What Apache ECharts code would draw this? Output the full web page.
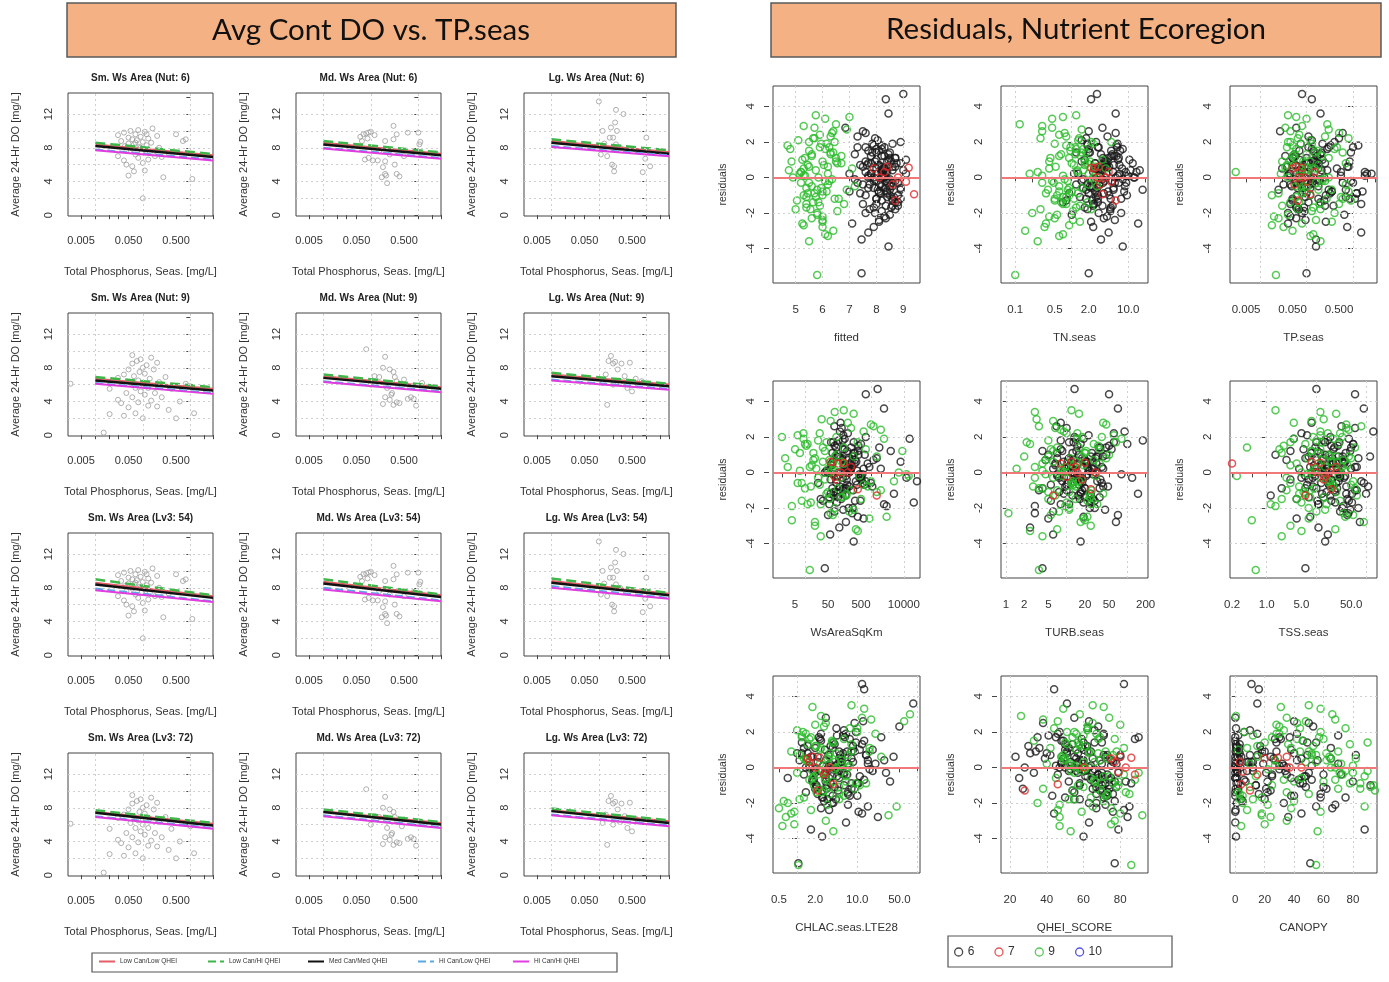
<!DOCTYPE html>
<html>
<head>
<meta charset="utf-8">
<title>Avg Cont DO vs. TP.seas / Residuals, Nutrient Ecoregion</title>
<script src="https://cdn.jsdelivr.net/npm/echarts@6.0.0/dist/echarts.min.js"></script>
<style>
  html, body { margin: 0; padding: 0; background: #fff; }
  #chart { width: 1389px; height: 982px; }
</style>
</head>
<body>
<div id="chart"></div>
<script>
// ---------------- left block : Avg Cont DO vs TP.seas ----------------
const groupNames = ['Low Can/Low QHEI', 'Low Can/Hi QHEI', 'Med Can/Med QHEI', 'Hi Can/Low QHEI', 'Hi Can/Hi QHEI'];
const sizeNames = ['Sm. Ws Area', 'Md. Ws Area', 'Lg. Ws Area'];
const regionNames = ['Nut: 6', 'Nut: 9', 'Lv3: 54', 'Lv3: 72'];
const tpLabels = ['0.005', '0.050', '0.500'];
const tpTicks = [0.005, 0.01, 0.02, 0.03, 0.05, 0.1, 0.2, 0.3, 0.5, 1, 2, 3];
const tpGrid = [0.01, 0.1, 1];
const doTicks = [0, 2, 4, 6, 8, 10, 12, 14];
const doLabels = [0, 4, 8, 12];
const doGrid = [2, 4, 6, 8, 10, 12];
const tpRange = [0.00266, 3.0];
const doRange = [-0.1, 14.5];
const lineTP = [0.01, 3.0];

// fitted lines: DO at TP = 0.01 and at TP = 3.0, group order as groupNames; one row per size class
const startNut6 = [[8.4, 8.6, 8.2, 7.8, 7.7], [8.6, 8.8, 8.4, 8.0, 7.9], [8.8, 9.0, 8.6, 8.2, 8.1]];
const endNut6   = [[7.1, 7.25, 6.9, 6.6, 6.5], [7.3, 7.45, 7.1, 6.8, 6.7], [7.5, 7.7, 7.3, 7.1, 7.0]];
const startNut9 = [[6.7, 6.9, 6.5, 6.2, 6.1], [7.0, 7.2, 6.8, 6.4, 6.3], [7.2, 7.4, 7.0, 6.6, 6.5]];
const endNut9   = [[5.5, 5.7, 5.3, 5.0, 4.9], [5.7, 5.8, 5.5, 5.2, 5.1], [6.0, 6.1, 5.8, 5.5, 5.4]];
const startLv54 = [[8.6, 9.0, 8.4, 7.9, 7.7], [8.7, 9.0, 8.5, 8.0, 7.8], [8.8, 9.1, 8.6, 8.2, 8.0]];
const endLv54   = [[7.0, 7.1, 6.8, 6.4, 6.3], [7.1, 7.2, 6.9, 6.5, 6.4], [7.3, 7.4, 7.1, 6.8, 6.7]];
const startLv72 = [[7.5, 7.7, 7.4, 7.0, 6.9], [7.6, 7.8, 7.5, 7.1, 7.0], [7.7, 7.9, 7.6, 7.2, 7.1]];
const endLv72   = [[6.1, 6.2, 5.9, 5.6, 5.5], [6.2, 6.3, 6.0, 5.7, 5.6], [6.4, 6.5, 6.2, 5.9, 5.8]];

// observed sites [TP, DO]
const smNut6Pts = [[0.03,9.5],[0.035,8.8],[0.04,9.8],[0.042,8.2],[0.045,7.6],[0.05,9.2],[0.05,8.5],[0.055,10.0],[0.06,7.9],[0.06,9.0],
  [0.065,8.4],[0.07,9.6],[0.07,7.2],[0.075,8.9],[0.08,10.1],[0.08,6.8],[0.085,8.1],[0.09,9.3],[0.095,7.5],[0.1,8.7],
  [0.1,6.2],[0.11,9.9],[0.11,7.8],[0.12,8.3],[0.13,9.1],[0.13,6.6],[0.14,7.4],[0.15,8.6],[0.16,10.3],[0.18,7.0],
  [0.2,9.4],[0.22,8.0],[0.25,6.9],[0.06,5.8],[0.045,6.0],[0.05,4.7],[0.065,5.2],[0.11,5.3],[0.1,2.0],[0.27,4.5],
  [0.5,9.6],[0.8,9.0],[0.7,8.8],[1.1,4.3],[0.35,7.3],[0.04,6.5],[0.03,7.0],[0.09,8.0],[0.12,9.6],[0.07,8.6]];
const mdNut6Pts = [[0.06,9.3],[0.07,9.6],[0.08,9.7],[0.09,9.8],[0.1,9.9],[0.12,9.5],[0.065,8.8],[0.085,9.1],[0.2,8.8],[0.3,9.0],
  [0.3,10.6],[0.35,9.6],[0.6,9.8],[1.0,9.8],[1.1,8.7],[1.05,8.4],[0.075,6.6],[0.09,6.8],[0.11,6.5],[0.14,6.5],
  [0.2,6.4],[0.32,6.0],[0.18,5.7],[0.2,4.9],[0.17,4.5],[0.21,4.7],[0.22,3.8],[0.35,4.9],[0.4,4.6],[0.8,7.5],
  [0.15,7.6],[0.25,7.2],[0.5,7.0]];
const lgNut6Pts = [[0.1,13.5],[0.23,12.5],[0.12,10.0],[0.18,10.4],[0.22,11.0],[0.24,10.0],[0.33,12.0],[0.2,9.2],[0.17,9.2],[0.23,8.4],
  [0.11,7.2],[0.15,7.0],[0.19,6.0],[0.21,5.8],[0.21,5.2],[0.84,5.1],[1.2,5.8],[1.0,9.2],[0.95,6.7],[0.28,8.0],[0.13,8.5]];
const smNut9Pts = [[0.003,6.1],[0.015,0.3],[0.02,2.5],[0.02,5.5],[0.03,4.2],[0.035,3.8],[0.03,6.8],[0.04,7.2],[0.04,2.3],[0.045,5.0],
  [0.05,7.8],[0.05,3.3],[0.055,6.2],[0.06,8.5],[0.06,4.5],[0.065,7.0],[0.07,5.6],[0.07,2.6],[0.075,8.8],[0.08,6.5],
  [0.08,3.9],[0.085,7.5],[0.09,5.2],[0.09,9.0],[0.1,6.0],[0.1,2.0],[0.11,7.3],[0.11,4.8],[0.12,8.3],[0.13,5.6],
  [0.13,3.5],[0.14,6.7],[0.15,9.2],[0.15,4.1],[0.17,7.8],[0.18,5.0],[0.2,8.6],[0.2,3.4],[0.22,6.3],[0.25,4.5],
  [0.3,6.9],[0.35,3.0],[0.4,5.5],[0.5,2.0],[0.6,4.0],[0.8,6.1],[1.0,5.8],[1.2,2.6],[0.06,9.5],[0.1,8.0]];
const mdNut9Pts = [[0.08,10.2],[0.2,9.3],[0.18,8.0],[0.25,7.8],[0.3,7.5],[0.15,6.9],[0.12,7.0],[0.35,6.4],[0.22,5.6],[0.28,5.0],
  [0.2,4.5],[0.25,4.2],[0.18,3.7],[0.3,3.6],[0.35,3.9],[0.4,3.8],[0.27,4.8],[0.6,4.3],[0.7,4.5],[0.8,4.3],
  [0.9,3.5],[0.5,6.6],[0.45,5.8],[1.2,6.2],[0.1,6.0],[0.32,6.9]];
const lgNut9Pts = [[0.18,9.4],[0.16,8.8],[0.2,8.5],[0.22,8.7],[0.25,7.8],[0.14,7.2],[0.3,8.5],[0.45,8.6],[0.35,7.0],[0.12,6.2],
  [0.2,6.0],[0.28,6.3],[0.4,5.6],[0.5,5.2],[0.15,3.6],[0.6,6.7],[0.8,6.4]];

// ---------------- right block : residuals ----------------
const ecoNames = ['6', '7', '9', '10'];
const residTicks = [-4, -2, 0, 2, 4];
const residRange = [-5.95, 5.15];

const resid6 = [4.7, 4.4, 3.6, -5.4, -3.9,
  2.8, -0.4, 1.2, -1.6, 0.3, 2.2, -2.2, 0.8, -0.9, 0.1,
  1.7, -1.2, -0.2, 0.6, -2.6, 1.4, -0.6, 0.2, -1.9, 1.0,
  -0.1, 2.5, -1.4, 0.5, -0.8, 1.9, -3.1, 0.0, -0.5, 1.3,
  -1.1, 0.7, -2.0, 0.4, 1.6, -0.3, -1.7, 0.9, -0.7, 2.0,
  -2.4, 0.2, 1.1, -1.0, -0.2, 1.5, -1.3, 0.6, -3.5, 0.3,
  -0.6, 1.8, -1.5, -0.1, 0.8, -2.1, 1.2, -0.9, 0.1, 2.3,
  -1.8, 0.5, -0.4, 1.0, -2.8, 0.0, 1.4, -1.2, 0.7, -0.3,
  2.6, -1.6, 0.4, -0.8, 1.7, -2.3, 0.9, -0.5, 0.2, -1.0,
  0.4, -0.6, 1.1, -1.2, 0.0, 0.8, -0.3, 1.5, -0.9, 0.2,
  -1.4, 0.6, -0.1, 1.3, -0.7, 0.3, -1.8, 0.9, -0.4, 1.9,
  -1.1, 0.1, 0.7, -0.5, 1.6, -1.6, 0.5, -0.2, 1.0, -0.8,
  0.2, -1.3, 1.2, -0.6, 0.0, 2.1, -1.0, 0.4, -2.0, 0.8,
  -0.3, 1.4, -0.9, 0.6, -1.5, 0.1, 1.7, -0.7, 0.3, -1.2,
  0.9, -0.1, -2.5, 1.1, -0.4, 0.5, -1.7, 1.8, -0.2, 0.7];
const resid9 = [-5.5, 3.5, 3.4, 3.3, -3.6, -3.3, 2.9, -3.0, 2.7, -2.7,
  1.8, -0.6, 0.9, -1.8, 2.4, -1.2, 0.3, 1.4, -2.3, 0.0,
  1.1, -0.9, 2.1, -1.5, 0.6, -0.2, 1.6, -2.0, 0.8, -1.0,
  -0.4, 2.6, -1.7, 0.5, 1.3, -2.5, 0.2, -0.7, 1.9, -1.3,
  0.7, -0.1, 2.2, -1.9, 1.0, -0.8, 0.4, -2.2, 1.5, -0.5,
  3.0, -1.4, 0.1, 1.7, -2.8, 0.9, -1.1, 2.0, -0.3, 1.2,
  1.2, -0.8, 0.5, -1.6, 2.3, -0.3, 0.9, -2.1, 1.6, -1.1,
  0.2, 2.8, -0.6, 1.4, -2.6, 0.7, -1.4, 0.0, 1.9, -0.9,
  2.5, -1.8, 0.4, -0.2, 1.1, -2.4, 0.8, -0.5, 1.7, -1.2,
  0.3, -3.2, 2.0, -0.7, 1.3, -1.5, 0.6, 2.2, -1.0, 0.1];
const resid7 = [0.5, 0.6, 0.0, 0.55, -0.25, -0.95, -1.3, 0.0, 0.3, -0.4];

const fitted6 = [9.0, 8.35, 8.45, 7.45, 8.45,
  6.85, 8.1, 7.8, 8.6, 7.6, 7.95, 8.3, 8.9, 7.4, 8.2,
  7.3, 8.0, 8.7, 7.5, 7.1, 8.5, 7.7, 9.1, 8.2, 8.0,
  7.2, 7.6, 8.8, 8.3, 7.0, 8.6, 7.7, 7.9, 8.6, 7.2,
  8.4, 8.1, 7.6, 9.0, 8.2, 7.3, 7.9, 8.4, 8.9, 8.9,
  8.1, 7.0, 8.7, 7.6, 8.0, 7.7, 8.2, 8.7, 7.45, 8.4,
  8.9, 8.2, 7.5, 8.5, 7.8, 8.5, 8.3, 8.1, 7.7, 7.3,
  8.7, 8.0, 7.5, 9.1, 7.9, 8.3, 8.0, 8.6, 7.4, 8.8,
  7.5, 8.35, 8.6, 8.4, 8.3, 8.35, 7.6, 8.2, 8.0, 8.8,
  8.2, 7.9, 8.5, 8.0, 8.3, 7.7, 8.6, 8.1, 8.4, 7.8,
  8.7, 8.2, 7.95, 8.45, 8.05, 8.35, 7.75, 8.55, 8.15, 7.85,
  8.65, 8.25, 7.65, 8.5, 8.0, 8.8, 8.3, 7.9, 8.45, 8.1,
  7.8, 8.6, 8.2, 8.35, 7.7, 8.05, 8.5, 8.25, 7.95, 8.75,
  8.4, 7.85, 8.15, 8.6, 8.0, 8.3, 7.6, 8.5, 8.2, 8.9,
  7.95, 8.4, 8.1, 8.7, 7.75, 8.25, 8.55, 7.9, 8.35, 8.05];
const fitted9 = [5.8, 5.75, 7.0, 6.1, 5.5, 6.2, 5.3, 6.4, 6.9, 5.3,
  4.7, 5.4, 6.0, 5.0, 5.9, 6.6, 5.2, 6.3, 5.6, 4.9,
  6.5, 5.7, 5.1, 6.8, 5.5, 6.1, 4.8, 5.8, 6.7, 5.3,
  6.2, 6.4, 5.4, 7.1, 5.6, 6.0, 5.15, 6.9, 5.95, 5.05,
  5.45, 6.35, 5.65, 6.55, 5.25, 6.15, 4.75, 6.0, 5.5, 7.2,
  6.5, 5.85, 5.35, 6.25, 6.0, 4.85, 5.75, 6.45, 5.2, 6.7,
  5.6, 6.0, 5.3, 5.9, 6.3, 5.5, 6.5, 5.8, 6.1, 5.4,
  6.2, 5.7, 5.95, 6.4, 5.25, 6.05, 5.65, 5.85, 6.15, 5.45,
  6.35, 5.55, 5.75, 6.25, 5.35, 6.0, 6.55, 5.6, 5.9, 6.45,
  5.2, 6.1, 5.5, 5.8, 6.3, 5.4, 6.2, 5.7, 6.0, 5.3];
const fitted7 = [7.9, 8.4, 8.8, 9.2, 9.1, 9.4, 8.7, 8.1, 8.3, 8.6];

const tn6 = [2.8, 2.2, 6.0, 2.0, 8.0,
  3.5, 1.2, 5.0, 2.4, 9.0, 1.8, 4.2, 12.0, 0.9, 6.5,
  2.9, 7.5, 1.5, 3.8, 15.0, 2.1, 5.5, 1.1, 4.8, 10.5,
  2.6, 6.0, 0.7, 3.2, 8.5, 1.9, 4.5, 13.0, 2.3, 5.2,
  1.4, 7.0, 3.0, 11.0, 2.0, 6.8, 1.7, 4.0, 18.0, 2.7,
  5.8, 1.3, 3.6, 9.5, 2.2, 7.2, 0.8, 4.6, 3.3, 14.0,
  1.6, 6.2, 2.5, 8.0, 3.9, 1.0, 5.6, 2.8, 10.0, 4.3,
  1.9, 7.8, 3.1, 6.6, 2.4, 12.5, 1.2, 4.9, 3.4, 9.2,
  2.0, 5.3, 16.0, 2.6, 6.4, 3.7, 1.5, 8.8, 4.1, 2.9,
  3.0, 2.2, 4.5, 1.8, 6.0, 2.6, 3.6, 5.0, 2.0, 7.0,
  2.9, 4.0, 1.6, 3.3, 5.5, 2.4, 4.8, 3.8, 1.9, 6.5,
  2.7, 3.1, 4.2, 2.1, 8.0, 3.5, 2.5, 5.2, 1.7, 4.4,
  3.2, 2.3, 6.2, 2.8, 3.9, 1.5, 4.6, 3.4, 7.5, 2.6,
  5.8, 2.0, 3.7, 4.1, 2.4, 9.0, 3.0, 1.8, 5.4, 2.9,
  4.3, 3.5, 2.2, 6.8, 3.1, 2.7, 4.9, 1.9, 3.8, 5.6];
const tn9 = [0.1, 1.2, 0.7, 0.45, 0.25, 0.6, 0.3, 0.15, 1.5, 0.9,
  0.8, 1.5, 0.4, 2.2, 0.6, 1.1, 0.25, 1.8, 0.5, 3.0,
  0.9, 0.35, 1.3, 0.7, 2.6, 0.45, 1.6, 0.2, 1.0, 0.55,
  2.0, 0.3, 1.2, 4.0, 0.65, 1.4, 0.18, 0.85, 2.4, 0.5,
  1.7, 0.75, 0.28, 1.05, 3.5, 0.6, 1.25, 0.4, 0.95, 2.8,
  0.12, 1.9, 0.7, 1.15, 0.33, 2.1, 0.8, 5.0, 0.48, 1.45,
  0.6, 1.0, 0.4, 1.4, 0.8, 0.3, 1.7, 0.55, 1.2, 0.7,
  2.0, 0.45, 0.9, 1.5, 0.35, 1.1, 0.65, 2.4, 0.5, 1.3,
  0.75, 0.28, 1.6, 0.85, 0.42, 1.05, 1.9, 0.6, 0.95, 0.5,
  1.25, 0.7, 2.2, 0.38, 1.15, 0.8, 0.52, 1.35, 0.9, 0.3];
const tn7 = [2.5, 3.0, 4.0, 2.2, 5.0, 3.5, 6.0, 2.8, 4.5, 3.2];

const tp6 = [0.08, 0.13, 0.2, 0.1, 0.16,
  0.06, 0.12, 0.035, 0.25, 0.08, 0.5, 0.045, 0.18, 1.2, 0.07,
  0.3, 0.05, 0.1, 0.8, 0.04, 0.15, 0.065, 2.0, 0.09, 0.22,
  0.055, 0.6, 0.11, 0.03, 0.35, 0.075, 1.5, 0.14, 0.048, 0.2,
  0.7, 0.085, 0.04, 0.28, 0.13, 1.0, 0.06, 0.17, 0.025, 0.4,
  0.095, 2.5, 0.052, 0.12, 0.9, 0.07, 0.24, 0.038, 0.16, 0.55,
  0.08, 1.3, 0.045, 0.19, 0.1, 0.65, 0.058, 0.32, 1.8, 0.11,
  0.068, 0.45, 0.032, 0.15, 0.75, 0.09, 0.21, 1.1, 0.05, 0.13,
  0.027, 0.38, 0.078, 1.6, 0.11, 0.06, 0.85, 0.18, 0.042, 0.26,
  0.07, 0.12, 0.05, 0.18, 0.09, 0.25, 0.06, 0.14, 0.1, 0.045,
  0.2, 0.08, 0.13, 0.055, 0.3, 0.11, 0.065, 0.16, 0.075, 0.22,
  0.095, 0.04, 0.15, 0.085, 0.28, 0.06, 0.12, 0.19, 0.07, 0.35,
  0.105, 0.05, 0.17, 0.09, 0.24, 0.13, 0.062, 0.21, 0.08, 0.11,
  0.6, 0.9, 1.2, 0.75, 1.5, 0.55, 1.0, 0.7, 1.8, 0.85,
  0.14, 0.072, 0.26, 0.1, 0.045, 0.18, 0.088, 0.33, 0.12, 0.058];
const tp9 = [0.022, 0.04, 0.06, 0.1, 0.2, 0.12, 0.08, 0.05, 0.3, 0.018,
  0.05, 0.1, 0.03, 0.2, 0.07, 0.6, 0.003, 0.15, 0.025, 0.04,
  0.3, 0.08, 0.12, 0.5, 0.035, 0.25, 0.06, 0.4, 0.09, 0.018,
  0.7, 0.045, 0.14, 0.11, 0.055, 0.35, 0.028, 0.18, 0.075, 0.9,
  0.038, 0.22, 0.065, 0.13, 0.045, 0.8, 0.095, 0.02, 0.17, 0.058,
  0.28, 0.07, 0.1, 0.45, 0.032, 0.085, 0.55, 0.04, 0.16, 0.21,
  0.05, 0.09, 0.15, 0.03, 0.25, 0.07, 0.12, 0.04, 0.4, 0.06,
  0.2, 0.035, 0.1, 0.6, 0.08, 0.18, 0.045, 0.3, 0.13, 0.025,
  0.5, 0.065, 0.11, 0.22, 0.055, 0.16, 0.7, 0.085, 0.038, 0.27,
  0.075, 0.14, 0.045, 0.35, 0.1, 0.19, 0.058, 0.8, 0.12, 0.068];
const tp7 = [0.05, 0.06, 0.07, 0.08, 0.1, 0.12, 0.065, 0.09, 0.15, 0.055];

const ws6 = [1600, 700, 2500, 40, 300,
  120, 60, 400, 35, 900, 200, 80, 1500, 150, 45,
  300, 5000, 100, 70, 600, 250, 25, 180, 3000, 90,
  450, 130, 55, 800, 220, 15000, 110, 40, 350, 160,
  75, 1200, 280, 65, 500, 140, 20000, 95, 190, 700,
  50, 2000, 320, 125, 85, 420, 170, 8000, 58, 260,
  1000, 105, 30, 550, 210, 145, 4000, 68, 380, 115,
  2500, 240, 88, 650, 175, 48, 1800, 135, 330, 12000,
  78, 480, 155, 1100, 62, 270, 98, 25000, 200, 140,
  150, 90, 300, 60, 220, 120, 450, 80, 180, 600,
  100, 260, 70, 140, 380, 200, 55, 110, 520, 160,
  85, 240, 130, 700, 95, 330, 65, 175, 420, 115,
  250, 75, 190, 560, 105, 145, 290, 62, 210, 135,
  480, 88, 165, 360, 125, 230, 72, 640, 155, 98,
  280, 112, 400, 68, 185, 320, 92, 140, 500, 205];
const ws9 = [14, 150, 80, 300, 30, 400, 60, 20, 1000, 4,
  25, 8, 300, 12, 2000, 45, 3, 150, 60, 7000,
  18, 100, 6, 500, 35, 14000, 10, 80, 2.5, 250,
  40, 1200, 15, 70, 5, 3000, 22, 600, 9, 180,
  55, 12000, 28, 4, 90, 800, 16, 220, 11, 5000,
  32, 140, 7, 400, 20, 1500, 50, 2, 120, 9000,
  40, 15, 150, 8, 600, 25, 80, 300, 12, 1500,
  50, 200, 6, 35, 900, 18, 120, 60, 2500, 10,
  250, 30, 100, 450, 7, 70, 20, 1000, 45, 180,
  14, 350, 90, 28, 700, 55, 130, 9, 2000, 65];
const ws7 = [100, 60, 200, 150, 80, 400, 1500, 120, 250, 90];

const turb6 = [13.5, 50, 70, 4, 17,
  8, 15, 4, 25, 11, 60, 6, 18, 35, 9,
  13, 150, 7, 22, 5, 45, 12, 28, 3, 16,
  80, 10, 20, 6.5, 40, 14, 2.5, 30, 8.5, 55,
  17, 4.5, 24, 11.5, 100, 7.5, 19, 33, 5.5, 13.5,
  70, 9.5, 26, 3.5, 15.5, 50, 12.5, 21, 6, 38,
  10.5, 180, 16.5, 27, 7, 43, 14.5, 4, 23, 90,
  8, 31, 18.5, 5, 65, 12, 36, 9, 20, 120,
  6.8, 29, 15, 48, 11, 3, 25, 17, 40, 10,
  10, 18, 7, 25, 13, 30, 9, 15, 20, 6,
  35, 12, 22, 8, 16, 28, 11, 40, 14, 19,
  7.5, 24, 10.5, 32, 17, 5.5, 21, 13.5, 45, 9.5,
  26, 15.5, 8.5, 38, 12, 23, 18, 6.5, 29, 11,
  16.5, 34, 20, 9, 27, 14, 60, 10, 22, 17,
  31, 7, 19, 12.5, 36, 15, 25, 8, 21, 13];
const turb9 = [3.5, 12, 3, 16, 4, 2.5, 6, 25, 45, 20,
  5, 12, 2, 25, 8, 40, 3, 16, 1.1, 9,
  20, 4, 60, 14, 6, 30, 2.5, 11, 45, 7,
  18, 3.5, 10, 35, 5.5, 22, 1.5, 13, 80, 6.5,
  28, 4.5, 15, 9.5, 50, 2.8, 19, 7.5, 33, 12.5,
  3.2, 24, 8.5, 65, 17, 5, 11, 38, 6, 21,
  6, 14, 4, 22, 9, 3, 17, 11, 28, 5,
  8, 40, 12, 7, 19, 4.5, 25, 10, 15, 3.5,
  6.5, 32, 13, 8.5, 20, 5.5, 11.5, 16, 2.2, 24,
  9.5, 7, 18, 12.5, 35, 5, 14.5, 10, 26, 4];
const turb7 = [8, 12, 15, 20, 10, 25, 6, 30, 14, 18];

const tss6 = [10, 60, 90, 6, 15,
  8, 20, 3, 45, 12, 5, 30, 70, 2, 15,
  10, 100, 6, 25, 4, 50, 18, 9, 35, 1.5,
  14, 60, 7, 22, 40, 3.5, 11, 28, 80, 5.5,
  16, 2.5, 33, 13, 55, 8.5, 24, 120, 6.5, 19,
  42, 4.5, 12, 65, 9.5, 27, 1.2, 38, 17, 7.5,
  90, 14, 4, 30, 21, 48, 10.5, 6, 26, 140,
  11, 36, 3, 18, 75, 8, 23, 52, 13, 5,
  32, 20, 9, 110, 15, 44, 7, 28, 16, 60,
  12, 25, 8, 40, 16, 6, 30, 20, 10, 50,
  14, 35, 9, 22, 18, 60, 11, 28, 7, 45,
  24, 13, 33, 17, 55, 10.5, 21, 38, 15, 8.5,
  27, 19, 48, 12.5, 31, 6.5, 23, 16.5, 70, 14,
  36, 9.5, 26, 20, 42, 11.5, 29, 18, 65, 13,
  34, 22, 7.5, 39, 15.5, 25, 52, 17, 30, 10];
const tss9 = [0.6, 1.5, 12, 25, 2, 5, 8, 3, 40, 0.5,
  10, 3, 25, 1.2, 45, 6, 15, 0.4, 35, 8,
  2, 60, 12, 4, 20, 0.25, 28, 7, 50, 2.5,
  16, 80, 5, 11, 1.8, 38, 9, 22, 3.5, 65,
  13, 6.5, 30, 1.5, 18, 4.5, 42, 10, 2.2, 55,
  14, 7.5, 26, 3, 90, 19, 5.5, 33, 12, 8,
  8, 20, 4, 30, 12, 2.5, 45, 15, 6, 25,
  10, 3.5, 18, 60, 7, 35, 14, 5, 22, 9,
  40, 16, 3, 28, 11, 55, 6.5, 19, 13, 4.5,
  33, 24, 8.5, 50, 12, 2, 26, 17, 7.5, 38];
const tss7 = [0.2, 8, 10, 12, 15, 20, 6, 18, 25, 14];

const chla6 = [12, 13, 85, 1.05, 2.6,
  3, 6, 1.5, 10, 2.2, 4.5, 15, 1.2, 8, 3.5,
  25, 2, 5, 1.8, 12, 4, 0.7, 7, 2.8, 18,
  3.2, 9, 1.4, 5.5, 35, 2.5, 6.5, 1.6, 11, 4.2,
  2.1, 14, 3.8, 1.1, 7.5, 30, 2.6, 5, 1.9, 9.5,
  3.4, 20, 1.3, 6, 2.4, 13, 4.8, 40, 1.7, 8.5,
  3, 5.8, 2.2, 16, 1, 7, 3.6, 10.5, 2.7, 50,
  4.4, 1.5, 6.8, 2.9, 22, 3.3, 1.2, 9, 5.2, 2,
  12.5, 3.9, 28, 1.8, 6.2, 2.5, 8, 4.6, 15, 3.1,
  3, 5, 2, 8, 4, 1.5, 6, 2.5, 10, 3.5,
  7, 2.2, 4.5, 12, 1.8, 5.5, 3.2, 9, 2.8, 6.5,
  4.2, 1.6, 14, 3.8, 2.4, 7.5, 5, 1.9, 11, 3,
  4.8, 2.6, 8.5, 3.4, 1.4, 6, 2.1, 15, 4, 5.8,
  2.9, 9.5, 3.6, 1.7, 7, 4.4, 2.3, 13, 5.2, 3.1,
  6.8, 2, 10.5, 3.9, 1.3, 8, 2.7, 4.6, 18, 3.3];
const chla9 = [1.05, 8, 1.8, 13, 4, 0.57, 2.5, 3, 17, 33,
  1.2, 3, 0.8, 5, 2, 9, 1.5, 4, 0.5, 7,
  2.5, 14, 1, 3.5, 25, 1.8, 6, 0.7, 4.5, 11,
  2.2, 60, 1.3, 3.2, 8, 0.9, 5.5, 1.6, 20, 2.8,
  1.1, 4.2, 10, 0.6, 2.4, 6.5, 1.4, 45, 3.8, 1.9,
  75, 2.6, 7.5, 1.7, 0.65, 16, 3.4, 1.25, 5.2, 2.1,
  2, 4, 1.3, 6, 2.8, 1, 8, 3.2, 1.6, 5,
  2.4, 12, 1.8, 3.8, 0.8, 7, 2.1, 4.5, 1.4, 9.5,
  3, 1.1, 5.5, 2.6, 16, 1.7, 3.5, 6.5, 1.2, 2.3,
  4.2, 0.9, 10, 2.9, 1.5, 5, 3.4, 7.5, 1.9, 2.7];
const chla7 = [1.5, 1.8, 2, 2.4, 3, 4, 2.2, 3.5, 1.6, 2.8];

const qhei6 = [82, 44, 51, 77, 60,
  55, 68, 30, 72, 48, 62, 85, 40, 58, 75,
  35, 65, 52, 80, 44, 70, 25, 60, 77, 50,
  66, 38, 73, 56, 83, 46, 63, 28, 70, 54,
  78, 42, 67, 59, 88, 33, 71, 51, 64, 47,
  82, 57, 36, 74, 61, 49, 69, 23, 79, 53,
  65, 41, 76, 58, 31, 72, 62, 86, 45, 68,
  55, 39, 73, 60, 84, 50, 66, 27, 71, 57,
  63, 43, 75, 52, 90, 67, 34, 61, 48, 70,
  60, 68, 52, 74, 63, 57, 70, 48, 66, 78,
  55, 72, 61, 50, 69, 76, 58, 64, 46, 71,
  67, 53, 80, 62, 59, 73, 49, 65, 56, 77,
  70, 54, 61, 75, 47, 66, 58, 69, 63, 51,
  79, 60, 72, 55, 67, 64, 45, 74, 57, 70,
  62, 53, 76, 59, 68, 65, 50, 71, 56, 73];
const qhei9 = [86, 65, 71, 49, 53, 47, 26, 77, 38, 92,
  60, 45, 72, 55, 80, 38, 66, 50, 75, 58,
  42, 70, 62, 85, 48, 53, 77, 35, 68, 57,
  82, 46, 64, 73, 51, 59, 40, 88, 67, 54,
  76, 61, 44, 71, 56, 79, 49, 65, 33, 74,
  58, 83, 52, 69, 47, 63, 78, 55, 90, 61,
  58, 66, 50, 72, 62, 55, 78, 47, 68, 60,
  53, 74, 64, 57, 80, 49, 70, 61, 56, 76,
  65, 52, 69, 59, 82, 46, 63, 71, 54, 67,
  60, 75, 51, 66, 58, 73, 48, 62, 79, 55];
const qhei7 = [75, 80, 60, 86, 79, 46, 28, 83, 77, 88];

const canopy6 = [11, 16, 15, 51, 0.5,
  0, 25, 1, 40, 8, 0.5, 55, 18, 2, 33,
  0, 62, 12, 1.5, 45, 28, 0, 70, 5, 38,
  0.5, 50, 22, 2.5, 80, 15, 0, 35, 48, 3,
  60, 10, 1, 42, 27, 0, 75, 20, 52, 6,
  0.2, 32, 65, 14, 1.2, 46, 24, 0, 88, 9,
  38, 2, 58, 30, 0.8, 68, 17, 44, 0, 53,
  4, 26, 72, 1.8, 36, 12, 49, 0.3, 82, 21,
  40, 0, 56, 7, 30, 66, 2.2, 47, 19, 92,
  0, 1, 0.5, 2, 0, 3, 1.5, 0, 0.8, 2.5,
  0, 4, 1.2, 0.3, 6, 12, 20, 28, 35, 42,
  48, 52, 15, 25, 31, 38, 45, 8, 18, 22,
  0, 1.8, 0.6, 0, 3.5, 10, 14, 27, 33, 40,
  50, 55, 46, 24, 16, 30, 37, 43, 11, 21,
  0.2, 1, 0, 2.8, 60, 65, 58, 70, 34, 49];
const canopy9 = [55, 50, 31, 58, 56, 4, 0.5, 35, 68, 18,
  12, 45, 70, 3, 28, 85, 55, 20, 38, 65,
  8, 78, 33, 50, 15, 90, 42, 5, 62, 25,
  73, 48, 18, 82, 36, 58, 10, 68, 30, 95,
  52, 22, 75, 40, 2, 60, 27, 88, 46, 14,
  66, 35, 80, 57, 24, 44, 92, 6, 71, 53,
  15, 40, 65, 5, 30, 80, 50, 22, 60, 10,
  72, 35, 45, 90, 18, 55, 2, 68, 28, 85,
  42, 12, 62, 75, 38, 8, 52, 88, 25, 70,
  48, 20, 58, 33, 78, 3, 64, 44, 94, 27];
const canopy7 = [20, 35, 45, 29, 5, 4, 10, 37, 3, 15];

// one panel per predictor (x ranges / ticks, log panels in original units)
const rightVars = [
  { name: 'fitted', log: false, range: [4.16, 9.62], labels: ['5', '6', '7', '8', '9'], ticks: [5, 6, 7, 8, 9], grid: [5, 6, 7, 8, 9], x6: fitted6, x9: fitted9, x7: fitted7 },
  { name: 'TN.seas', log: true, range: [0.056, 22.4], labels: ['0.1', '0.5', '2.0', '10.0'], ticks: [0.1, 0.2, 0.5, 1, 2, 5, 10, 20], grid: [0.1, 1, 10], x6: tn6, x9: tn9, x7: tn7 },
  { name: 'TP.seas', log: true, range: [0.00226, 3.28], labels: tpLabels, ticks: tpTicks, grid: tpGrid, x6: tp6, x9: tp9, x7: tp7 },
  { name: 'WsAreaSqKm', log: true, range: [1.07, 30900], labels: ['5', '50', '500', '10000'], ticks: [2, 5, 10, 20, 50, 100, 200, 500, 1000, 2000, 5000, 10000, 20000], grid: [10, 100, 1000, 10000], x6: ws6, x9: ws9, x7: ws7 },
  { name: 'TURB.seas', log: true, range: [0.83, 219], labels: ['1', '2', '5', '20', '50', '200'], ticks: [1, 2, 5, 10, 20, 50, 100, 200], grid: [1, 10, 100], x6: turb6, x9: turb9, x7: turb7 },
  { name: 'TSS.seas', log: true, range: [0.182, 166], labels: ['0.2', '1.0', '5.0', '50.0'], ticks: [0.2, 0.5, 1, 2, 5, 10, 20, 50, 100], grid: [1, 10, 100], x6: tss6, x9: tss9, x7: tss7 },
  { name: 'CHLAC.seas.LTE28', log: true, range: [0.398, 110], labels: ['0.5', '2.0', '10.0', '50.0'], ticks: [0.5, 1, 2, 5, 10, 20, 50, 100], grid: [1, 10, 100], x6: chla6, x9: chla9, x7: chla7 },
  { name: 'QHEI_SCORE', log: false, range: [15.1, 95.1], labels: ['20', '40', '60', '80'], ticks: [20, 40, 60, 80], grid: [20, 40, 60, 80], x6: qhei6, x9: qhei9, x7: qhei7 },
  { name: 'CANOPY', log: false, range: [-3.6, 96.4], labels: ['0', '20', '40', '60', '80'], ticks: [0, 20, 40, 60, 80], grid: [0, 20, 40, 60, 80], x6: canopy6, x9: canopy9, x7: canopy7 }
];

// ---------------- styles & layout ----------------
const FONT = 'Liberation Sans, Arial, sans-serif';
const TXT = '#333';
const lineStyles = [
  { color: '#e35d67', width: 2, type: 'solid' },
  { color: '#3fb64a', width: 2.5, type: 'dashed' },
  { color: '#111111', width: 2.5, type: 'solid' },
  { color: '#5aa8e0', width: 2, type: 'dashed' },
  { color: '#e03ce0', width: 2, type: 'solid' }
];
const ecoColors = { '6': '#1a1a1a', '7': '#e02a2a', '9': '#2cbb2c', '10': '#2b2bd6' };

const leftCols = [68, 296, 524], leftRows = [93, 313, 533, 753], leftW = 145, leftH = 123;
const rightCols = [773, 1001, 1230], rightRows = [86, 381, 676], rightW = 147, rightH = 197;

const log10 = Math.log10;
const grids = [], xAxes = [], yAxes = [], series = [], graphics = [];

function nearestLabel(labels, v, isLog) {
  let best = labels[0], d = Infinity;
  labels.forEach(s => {
    const p = isLog ? log10(parseFloat(s)) : parseFloat(s);
    if (Math.abs(p - v) < d) { d = Math.abs(p - v); best = s; }
  });
  return best;
}

function gridLines(idx, xs, ys) {
  const data = xs.map(v => ({ xAxis: v })).concat(ys.map(v => ({ yAxis: v })));
  series.push({
    type: 'line', xAxisIndex: idx, yAxisIndex: idx, data: [], silent: true, z: 1,
    markLine: { silent: true, symbol: ['none', 'none'], label: { show: false }, animation: false,
      lineStyle: { color: '#cfcfcf', width: 1, type: [2, 3] }, data: data }
  });
}

// ---- left 4x3 panels ----
const ptsBySize = [[smNut6Pts, smNut9Pts], [mdNut6Pts, mdNut9Pts], [lgNut6Pts, lgNut9Pts]];
const lineSets = [[startNut6, endNut6], [startNut9, endNut9], [startLv54, endLv54], [startLv72, endLv72]];

for (let r = 0; r < 4; r++) {
  for (let c = 0; c < 3; c++) {
    const idx = grids.length;
    grids.push({ left: leftCols[c], top: leftRows[r], width: leftW, height: leftH, show: true,
      borderColor: '#444', borderWidth: 1, backgroundColor: 'transparent' });
    xAxes.push({
      gridIndex: idx, type: 'value', min: log10(tpRange[0]), max: log10(tpRange[1]), offset: 3,
      axisLine: { show: false }, splitLine: { show: false },
      axisTick: { show: true, customValues: tpTicks.map(log10), length: 4, lineStyle: { color: '#444' } },
      axisLabel: { customValues: tpLabels.map(s => log10(parseFloat(s))), formatter: v => nearestLabel(tpLabels, v, true),
        fontSize: 11, color: TXT, fontFamily: FONT, margin: 16 },
      name: 'Total Phosphorus, Seas. [mg/L]', nameLocation: 'middle', nameGap: 47,
      nameTextStyle: { fontSize: 11, color: TXT, fontFamily: FONT }
    });
    yAxes.push({
      gridIndex: idx, type: 'value', min: doRange[0], max: doRange[1], offset: 3,
      axisLine: { show: false }, splitLine: { show: false },
      axisTick: { show: true, customValues: doTicks, length: 4, lineStyle: { color: '#444' } },
      axisLabel: { customValues: doLabels, rotate: 90, fontSize: 11, color: TXT, fontFamily: FONT, margin: 11 },
      name: 'Average 24-Hr DO [mg/L]', nameLocation: 'middle', nameGap: 44,
      nameTextStyle: { fontSize: 11, color: TXT, fontFamily: FONT }
    });
    gridLines(idx, tpGrid.map(log10), doGrid);

    const pts = ptsBySize[c][r % 2];
    series.push({
      type: 'scatter', xAxisIndex: idx, yAxisIndex: idx, silent: true, z: 2,
      symbol: 'circle', symbolSize: 5,
      itemStyle: { color: 'rgba(0,0,0,0)', borderColor: '#9c9c9c', borderWidth: 1 },
      data: pts.map(p => [log10(p[0]), p[1]])
    });
    const st = lineSets[r][0][c], en = lineSets[r][1][c];
    groupNames.forEach((g, k) => {
      series.push({
        type: 'line', name: g, xAxisIndex: idx, yAxisIndex: idx, silent: true, z: 3 + k,
        symbol: 'none', lineStyle: lineStyles[k], itemStyle: { color: lineStyles[k].color },
        data: [[log10(lineTP[0]), st[k]], [log10(lineTP[1]), en[k]]]
      });
    });
    graphics.push({
      type: 'text', x: leftCols[c] + leftW / 2, y: leftRows[r] - 15,
      style: { text: sizeNames[c] + ' (' + regionNames[r] + ')', font: 'bold 10px ' + FONT, fill: '#222',
        align: 'center', verticalAlign: 'middle', textAlign: 'center', textVerticalAlign: 'middle' }
    });
  }
}

// ---- right 3x3 panels ----
function pairs(xs, ys, isLog) {
  const n = Math.min(xs.length, ys.length), out = [];
  for (let i = 0; i < n; i++) out.push([isLog ? log10(xs[i]) : xs[i], ys[i]]);
  return out;
}

rightVars.forEach((v, i) => {
  const r = Math.floor(i / 3), c = i % 3;
  const idx = grids.length;
  const tx = v.log ? log10 : (a => a);
  grids.push({ left: rightCols[c], top: rightRows[r], width: rightW, height: rightH, show: true,
    borderColor: '#444', borderWidth: 1, backgroundColor: 'transparent' });
  xAxes.push({
    gridIndex: idx, type: 'value', min: tx(v.range[0]), max: tx(v.range[1]), offset: 4,
    axisLine: { show: false }, splitLine: { show: false },
    axisTick: { show: true, customValues: v.ticks.map(tx), length: 5, lineStyle: { color: '#444' } },
    axisLabel: { customValues: v.labels.map(s => tx(parseFloat(s))), formatter: a => nearestLabel(v.labels, a, v.log),
      fontSize: 11.5, color: TXT, fontFamily: FONT, margin: 17 },
    name: v.name, nameLocation: 'middle', nameGap: 45,
    nameTextStyle: { fontSize: 11.5, color: TXT, fontFamily: FONT }
  });
  yAxes.push({
    gridIndex: idx, type: 'value', min: residRange[0], max: residRange[1], offset: 4,
    axisLine: { show: false }, splitLine: { show: false },
    axisTick: { show: true, customValues: residTicks, length: 5, lineStyle: { color: '#444' } },
    axisLabel: { customValues: residTicks, rotate: 90, fontSize: 11.5, color: TXT, fontFamily: FONT, margin: 12 },
    name: 'residuals', nameLocation: 'middle', nameGap: 40,
    nameTextStyle: { fontSize: 10.5, color: TXT, fontFamily: FONT }
  });
  gridLines(idx, v.grid.map(tx), residTicks);

  const sets = [['6', v.x6, resid6], ['9', v.x9, resid9], ['7', v.x7, resid7]];
  sets.forEach((s, k) => {
    series.push({
      type: 'scatter', name: s[0], xAxisIndex: idx, yAxisIndex: idx, silent: true, z: 2 + k,
      symbol: 'circle', symbolSize: 7,
      itemStyle: { color: 'rgba(0,0,0,0)', borderColor: ecoColors[s[0]], borderWidth: 1.5 },
      data: pairs(s[1], s[2], v.log)
    });
  });
  if (i === 0) {
    series.push({ type: 'scatter', name: '10', xAxisIndex: idx, yAxisIndex: idx, data: [], symbol: 'circle', symbolSize: 7,
      itemStyle: { color: 'rgba(0,0,0,0)', borderColor: ecoColors['10'], borderWidth: 1.5 } });
  }
  // zero reference line
  series.push({
    type: 'line', xAxisIndex: idx, yAxisIndex: idx, data: [], silent: true, z: 6,
    markLine: { silent: true, symbol: ['none', 'none'], label: { show: false }, animation: false,
      lineStyle: { color: '#f07878', width: 2, type: 'solid' }, data: [{ yAxis: 0 }] }
  });
});

// ---- headers ----
const HEAD_FONT = '29.5px Lato, Open Sans, sans-serif';
graphics.push(
  { type: 'rect', shape: { x: 67, y: 3, width: 609, height: 54 }, style: { fill: '#f4b183', stroke: '#5a5a5a', lineWidth: 1.5 }, z: 0 },
  { type: 'text', x: 371, y: 30, style: { text: 'Avg Cont DO vs. TP.seas', font: HEAD_FONT, fill: '#111',
      align: 'center', verticalAlign: 'middle', textAlign: 'center', textVerticalAlign: 'middle' }, z: 1 },
  { type: 'rect', shape: { x: 771, y: 3, width: 610, height: 54 }, style: { fill: '#f4b183', stroke: '#5a5a5a', lineWidth: 1.5 }, z: 0 },
  { type: 'text', x: 1076, y: 29, style: { text: 'Residuals, Nutrient Ecoregion', font: HEAD_FONT, fill: '#111',
      align: 'center', verticalAlign: 'middle', textAlign: 'center', textVerticalAlign: 'middle' }, z: 1 },
  // legend frames
  { type: 'rect', shape: { x: 92, y: 953, width: 525, height: 19 }, style: { fill: 'none', stroke: '#555', lineWidth: 1.2 } },
  { type: 'rect', shape: { x: 948, y: 936, width: 224, height: 31 }, style: { fill: 'none', stroke: '#555', lineWidth: 1.2 } }
);

// ---- legends ----
const leftLegendX = [98, 207, 307, 417, 512];
const legends = groupNames.map((g, k) => ({
  data: [g], left: leftLegendX[k], top: 958, itemWidth: 16, itemHeight: 8, padding: 0,
  selectedMode: false, itemStyle: { opacity: 0 },
  textStyle: { fontSize: 6.5, color: TXT, fontFamily: FONT }
}));
legends.push({
  data: ecoNames, left: 954, top: 946, itemWidth: 8, itemHeight: 8, itemGap: 20, padding: 0,
  selectedMode: false, icon: 'circle',
  itemStyle: { color: 'rgba(0,0,0,0)', borderWidth: 1.3 },
  textStyle: { fontSize: 12, color: TXT, fontFamily: FONT }
});

const chart = echarts.init(document.getElementById('chart'));
chart.setOption({
  animation: false,
  backgroundColor: '#fff',
  textStyle: { fontFamily: FONT },
  grid: grids,
  xAxis: xAxes,
  yAxis: yAxes,
  legend: legends,
  graphic: graphics,
  series: series
});
</script>
</body>
</html>
